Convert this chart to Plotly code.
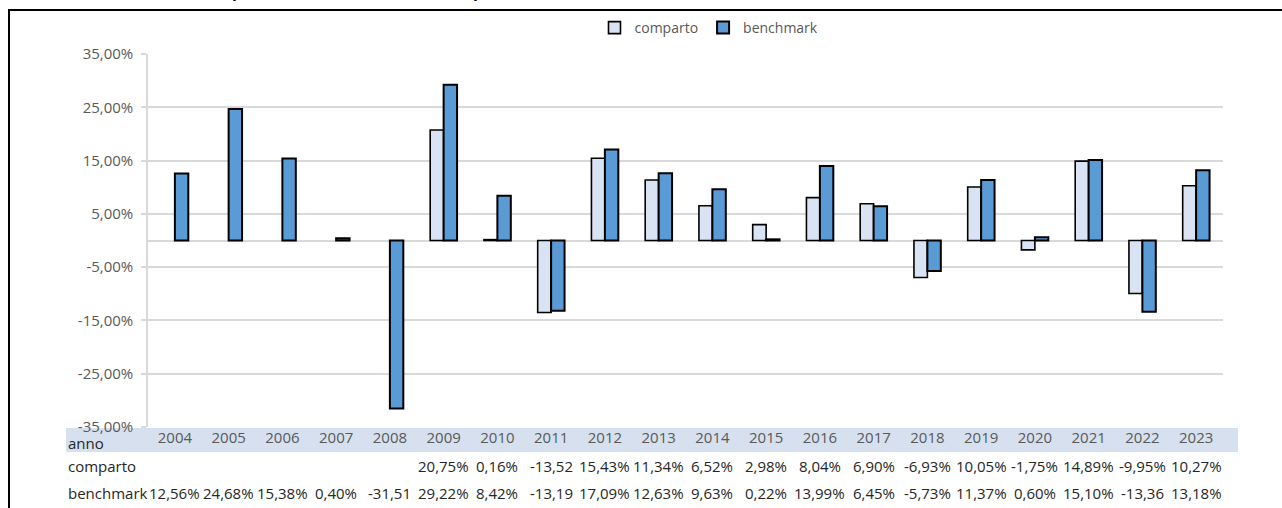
import plotly.graph_objects as go

# ---- data ----
anni = [str(a) for a in range(2004, 2024)]
comparto = [None, None, None, None, None, 20.75, 0.16, -13.52, 15.43, 11.34,
            6.52, 2.98, 8.04, 6.90, -6.93, 10.05, -1.75, 14.89, -9.95, 10.27]
benchmark = [12.56, 24.68, 15.38, 0.40, -31.51, 29.22, 8.42, -13.19, 17.09, 12.63,
             9.63, 0.22, 13.99, 6.45, -5.73, 11.37, 0.60, 15.10, -13.36, 13.18]
y_ticks = [35, 25, 15, 5, -5, -15, -25, -35]
titolo = "Rendimenti annui del comparto e del benchmark (valori percentuali)"

FONT = "Open Sans"
GRAY = "#595959"
GRID = "#d9d9d9"

W, H = 1282, 508
L, R, T, B = 148, 59, 54, 81
PW, PH = W - L - R, H - T - B


def px2x(px):
    return (px - L) / PW


def px2y(py):
    return (H - B - py) / PH


def fmt_pct(v):
    s = f"{v:.2f}".replace(".", ",")
    # the data table cell truncates the % sign on long negative numbers
    return s if v <= -10 else s + "%"


fig = go.Figure()
fig.add_trace(go.Bar(name="comparto", x=anni, y=comparto,
                     marker=dict(color="#dae3f3", line=dict(color="#000000", width=1.6))))
fig.add_trace(go.Bar(name="benchmark", x=anni, y=benchmark,
                     marker=dict(color="#5b9bd5", line=dict(color="#000000", width=2))))

fig.update_layout(
    width=W, height=H,
    margin=dict(l=L, r=R, t=T, b=B, pad=0),
    paper_bgcolor="white", plot_bgcolor="white",
    barmode="group", bargap=0.5, bargroupgap=0,
    font=dict(family=FONT, size=15, color=GRAY),
    showlegend=True,
    legend=dict(orientation="h", x=px2x(709), xanchor="center", y=px2y(28), yanchor="middle",
                font=dict(family=FONT, size=14, color=GRAY), bgcolor="rgba(0,0,0,0)",
                traceorder="normal", itemwidth=30),
)
fig.update_yaxes(range=[-35, 35], tickvals=y_ticks,
                 ticktext=[f"{v:.2f}".replace(".", ",") + "%" for v in y_ticks],
                 showgrid=True, gridcolor=GRID, gridwidth=1.5,
                 zeroline=True, zerolinecolor=GRID, zerolinewidth=1.5,
                 showline=True, linecolor=GRID, linewidth=1.5,
                 ticks="outside", ticklen=5, tickcolor=GRID, tickwidth=1.5,
                 ticklabelstandoff=5,
                 tickfont=dict(family=FONT, size=15, color=GRAY), fixedrange=True)
fig.update_xaxes(type="category", range=[-0.5, len(anni) - 0.5],
                 showgrid=False, zeroline=False, showline=False, ticks="",
                 tickfont=dict(family=FONT, size=15, color=GRAY), fixedrange=True)

# data-table band behind the "anno" row
fig.add_shape(type="rect", xref="paper", yref="paper", layer="below",
              x0=px2x(66), x1=px2x(1238), y0=px2y(428), y1=px2y(452),
              fillcolor="#d6e0ee", line=dict(width=0))

# outer frame
fig.add_shape(type="rect", xref="paper", yref="paper",
              x0=px2x(9), x1=px2x(1300), y0=px2y(530), y1=px2y(10),
              line=dict(color="#000000", width=2), fillcolor="rgba(0,0,0,0)")

# row labels
for lab, py in [("anno", 443), ("comparto", 466), ("benchmark", 493)]:
    fig.add_annotation(text=lab, xref="paper", yref="paper", x=px2x(66), y=px2y(py),
                       xanchor="left", yanchor="middle", showarrow=False,
                       font=dict(family=FONT, size=15, color="#262626"))

# table values (x = category index on the category axis)
for serie, py in [(comparto, 466), (benchmark, 493)]:
    for i, v in enumerate(serie):
        if v is None:
            continue
        fig.add_annotation(text=fmt_pct(v), x=i, xref="x", yref="paper", y=px2y(py),
                           xanchor="center", yanchor="middle", showarrow=False,
                           font=dict(family=FONT, size=15, color="#262626"))

# title (cut off at the top of the picture)
fig.add_annotation(text="<b>" + titolo + "</b>", xref="paper", yref="paper",
                   x=px2x(20), y=px2y(4), xanchor="left", yanchor="bottom",
                   showarrow=False, font=dict(family=FONT, size=16, color="#000000"))

fig.write_html("out.html", config={"displayModeBar": False},
               post_script="document.body.style.margin='0';")
